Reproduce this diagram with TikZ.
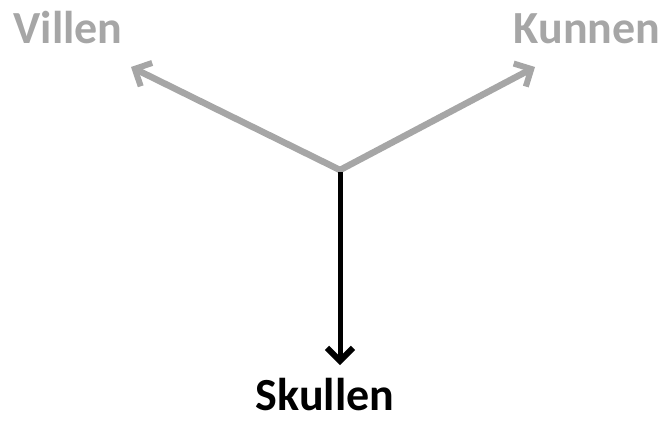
\documentclass[tikz,border=0pt]{standalone}
\usepackage{fontspec}
\setmainfont{Carlito}
\usetikzlibrary{arrows.meta}
\definecolor{modalgray}{HTML}{A6A6A6}

\begin{document}
\begin{tikzpicture}[x=1pt, y=-1pt,
  word/.style={anchor=base, inner sep=0pt, font=\fontsize{46}{50}\selectfont\bfseries},
  branch/.style={line width=6.5pt, -{Straight Barb[length=13pt, width=26pt, line width=6pt]}}]
\useasboundingbox (0,0) rectangle (666,423);
\node [word, text=modalgray] (villen) at (68,43) {Villen};
\node [word, text=modalgray] (kunnen) at (587,43) {Kunnen};
\node [word] (skullen) at (325,410) {Skullen};
\coordinate (hub) at (340,170);
\coordinate (top) at (340,172);
\coordinate (vtip) at (131,67);
\coordinate (ktip) at (535,67);
\coordinate (stip) at (340,365);

\draw[branch, modalgray, line cap=round] (hub) -- (vtip);
\draw[branch, modalgray, line cap=round] (hub) -- (ktip);
\draw[branch, black, line width=5pt] (top) -- (stip);
\end{tikzpicture}
\end{document}
